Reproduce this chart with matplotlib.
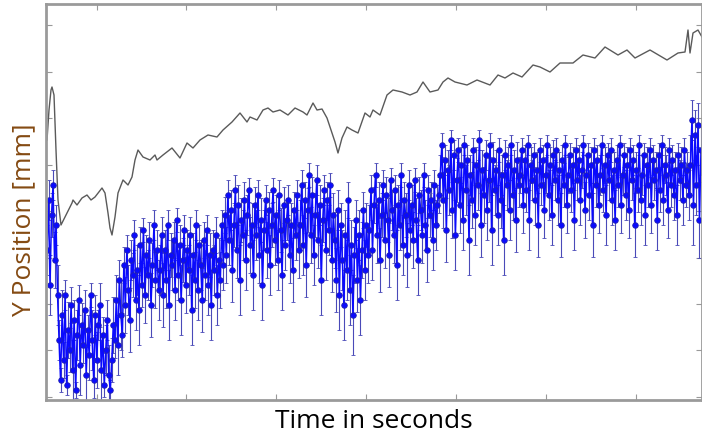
import numpy as np
import matplotlib
matplotlib.use("Agg")
from matplotlib import pyplot as plt

# reference trace (gray line)
ref_t = [1, 3, 5, 6, 8, 10, 12, 15, 19, 26, 27, 31, 36, 41, 45, 49, 56, 59, 62, 64,
         66, 69, 72, 77, 82, 86, 89, 92, 97, 104, 109, 111, 117, 126, 134, 141, 147, 154, 162, 171,
         177, 186, 194, 201, 204, 211, 217, 222, 227, 234, 242, 249, 257, 261, 267, 271, 276, 281, 286, 289,
         292, 296, 301, 306, 312, 319, 324, 327, 334, 341, 347, 356, 364, 371, 377, 384, 392, 397, 402, 409,
         421, 431, 444, 452, 459, 467, 476, 487, 494, 504, 514, 527, 537, 549, 559, 572, 581, 589, 604, 621,
         632, 639, 642, 644, 647, 652, 656]
ref_pos = [260, 290, 310, 313, 305, 250, 200, 175, 183, 197, 200, 195, 202, 205, 200, 203, 212, 207, 187, 172,
           165, 183, 207, 220, 215, 223, 240, 250, 243, 240, 245, 240, 245, 252, 242, 257, 252, 260, 265, 263,
           270, 278, 287, 278, 283, 280, 290, 292, 288, 290, 285, 292, 288, 285, 297, 290, 291, 282, 267, 258,
           247, 262, 273, 270, 267, 287, 283, 290, 285, 305, 310, 308, 305, 308, 318, 308, 310, 318, 322, 318,
           315, 320, 315, 325, 322, 327, 323, 335, 333, 328, 337, 337, 345, 342, 353, 345, 350, 342, 350, 340,
           347, 348, 370, 347, 367, 370, 363]

# measured position (blue, with error bars)
meas_pos = [
    150, 200, 115, 185, 215, 140, 175, 105,
    60, 20, 85, 40, 105, 15, 70, 50, 95, 30,
    80, 10, 65, 100, 35, 75, 55, 90, 25, 70,
    45, 105, 60, 20, 85, 40, 75, 95, 30, 65,
    15, 50, 80, 25, 10,
    40, 75, 60, 100, 55, 120, 85, 65, 135, 95,
    150, 110, 80, 140, 125, 165, 100, 130, 90, 155,
    115, 170, 105, 145, 125, 160, 95, 135, 175, 120,
    150, 110,
    130, 165, 105, 150, 120, 175, 95, 145, 135, 160,
    110, 180, 125, 155, 100, 140, 170, 115, 150, 130,
    165, 90, 145, 120, 175, 110, 155, 135, 100, 160,
    125, 170, 115, 145, 95, 150, 130, 165, 105, 140,
    120, 175, 135,
    185, 145, 205, 160, 190, 130, 175, 210, 150, 195,
    120, 180, 165, 200, 140, 185, 210, 155, 175, 125,
    195, 165, 205, 145, 180, 115, 170, 200, 150, 190,
    135, 175, 210, 160, 185, 140, 205, 170, 125, 195,
    155, 180, 200, 145, 175, 130, 190, 165, 205, 150,
    175, 215, 155, 200, 135, 190, 225, 165, 205, 145,
    185, 220, 160, 195, 120, 180, 210, 150, 200, 170,
    215, 140, 185,
    160, 120, 190, 105, 175, 140, 95, 165, 130, 200,
    110, 155, 85, 145, 180, 120, 165, 100, 150, 190,
    130, 175, 145,
    170, 210, 150, 195, 225, 165, 200, 140, 185, 215,
    160, 205, 180, 145, 220, 190, 165, 210, 135, 195,
    175, 225, 155, 200, 185, 145, 215, 170, 195, 160,
    220, 180, 140, 205, 190, 165, 225, 175, 150, 210,
    185, 200, 160, 215, 175, 195, 205,
    225, 255, 200, 240, 170, 230, 210, 260, 190, 245,
    165, 220, 250, 195, 235, 180, 255, 210, 240, 160,
    225, 200, 250, 185, 235, 215, 260, 175, 230, 205,
    245, 190, 220, 255, 170, 240, 210, 230, 185, 250,
    200, 225, 160, 245, 215, 235, 190, 255, 205, 230,
    180, 240, 215,
    225, 250, 195, 240, 210, 255, 180, 235, 220, 245,
    200, 230, 175, 250, 215, 240, 190, 225, 255, 205,
    235, 185, 245, 220, 250, 200, 230, 175, 240, 215,
    255, 195, 225, 245, 210, 235, 180, 250, 220, 240,
    200, 230, 255, 190, 225, 245, 205, 235, 175, 250,
    215, 240, 195, 225, 255, 210, 235, 185, 245, 220,
    250, 200, 230, 180, 240, 215, 255, 195, 225, 245,
    205, 235, 190, 250, 220, 240, 175, 230, 210, 255,
    200, 225, 245, 185, 235, 215, 250, 195, 240, 220,
    230, 180, 245, 210, 255, 200, 235, 225, 190, 250,
    215, 240, 205, 230, 185, 245, 220, 235, 200, 250,
    215, 230, 205,
    235, 280, 195, 265, 215, 275, 180, 250]
meas_err = [
    25, 20, 30, 22, 15, 28, 20, 30,
    20, 12, 25, 18, 15, 10, 28, 22, 18, 30,
    20, 8, 25, 15, 30, 22, 18, 20, 28, 15,
    25, 12, 30, 18, 20, 28, 15, 22, 30, 18,
    12, 25, 20, 30, 10,
    22, 28, 18, 25, 30, 20, 35, 22, 18, 28,
    15, 25, 32, 20, 22, 15, 30, 25, 35, 18,
    22, 12, 28, 20, 25, 18, 32, 22, 15, 28,
    20, 30,
    25, 18, 32, 20, 28, 15, 35, 22, 25, 18,
    30, 12, 25, 20, 35, 22, 15, 28, 20, 25,
    18, 35, 22, 28, 15, 30, 20, 25, 32, 18,
    25, 15, 30, 22, 35, 20, 25, 18, 30, 22,
    28, 15, 25,
    18, 28, 15, 25, 20, 32, 22, 15, 28, 20,
    35, 22, 25, 18, 30, 20, 12, 28, 22, 35,
    18, 25, 15, 28, 22, 35, 20, 15, 28, 18,
    30, 22, 12, 25, 20, 30, 15, 22, 35, 18,
    25, 20, 15, 28, 22, 32, 18, 25, 15, 28,
    25, 15, 30, 18, 32, 22, 12, 28, 18, 30,
    22, 15, 28, 20, 35, 22, 15, 30, 18, 25,
    12, 32, 22,
    28, 32, 20, 35, 22, 30, 35, 25, 30, 18,
    35, 25, 40, 28, 20, 32, 25, 35, 28, 18,
    30, 22, 28,
    25, 15, 30, 18, 12, 28, 18, 32, 22, 15,
    28, 18, 22, 32, 12, 20, 28, 15, 35, 20,
    25, 12, 30, 18, 22, 32, 15, 25, 20, 28,
    12, 22, 35, 18, 20, 28, 12, 25, 32, 15,
    22, 18, 30, 15, 25, 20, 18,
    20, 12, 28, 15, 32, 20, 25, 10, 28, 15,
    35, 22, 12, 28, 18, 30, 10, 25, 15, 35,
    20, 28, 12, 30, 18, 25, 10, 32, 20, 28,
    15, 30, 22, 12, 35, 18, 25, 20, 30, 12,
    28, 20, 35, 15, 25, 18, 30, 10, 25, 20,
    32, 18, 22,
    18, 12, 28, 15, 22, 10, 30, 18, 20, 12,
    25, 18, 32, 12, 20, 15, 28, 18, 10, 25,
    18, 30, 15, 20, 12, 25, 18, 32, 15, 22,
    10, 28, 18, 12, 22, 18, 30, 12, 20, 15,
    25, 18, 10, 28, 20, 12, 25, 18, 32, 12,
    22, 15, 28, 20, 10, 22, 18, 30, 12, 20,
    12, 25, 18, 30, 15, 22, 10, 28, 20, 12,
    25, 18, 28, 12, 20, 15, 32, 18, 22, 10,
    25, 20, 12, 30, 18, 22, 12, 28, 15, 20,
    18, 30, 12, 22, 10, 25, 18, 20, 28, 12,
    22, 15, 25, 18, 30, 12, 20, 18, 25, 12,
    22, 18, 25,
    30, 20, 40, 25, 30, 22, 38, 25]
# uniform sampling times
meas_t = np.linspace(1, 655, len(meas_pos))

xticks = [51, 140, 230, 320, 410, 500, 590]
yticks = [3, 50, 96, 142, 189, 235, 282, 328, 375]

fig = plt.figure(figsize=(7.02, 4.41), dpi=100)
ax = fig.add_axes([46 / 702, 1 - 400 / 441, 656 / 702, 396 / 441])

ax.plot(ref_t, ref_pos, color='#5a5a5a', lw=1.0)
ax.errorbar(meas_t, meas_pos, yerr=meas_err, fmt='o-', color='#0a0aff', ms=4,
            mec='#2020b0', mew=0.6, lw=1.1, ecolor='#4a4ab8', elinewidth=0.8, capsize=1.5)

ax.set_xticks(xticks)
ax.set_yticks(yticks)
ax.set_xlim(0, 656)
ax.set_ylim(0, 396)
ax.set_xticklabels([])
ax.set_yticklabels([])
ax.tick_params(direction='in', length=4, width=0.8, color='#999999',
               top=True, right=True)
for s in ax.spines.values():
    s.set_color('#9a9a9a')
    s.set_linewidth(2)

ax.set_xlabel('Time in seconds', fontsize=19, family='Open Sans', labelpad=3)
ax.set_ylabel('Y Position [mm]', fontsize=19, family='Open Sans', color='#844a12')
ax.yaxis.set_label_coords(-0.015, 0.455)

fig.savefig('out.png', dpi=100)
